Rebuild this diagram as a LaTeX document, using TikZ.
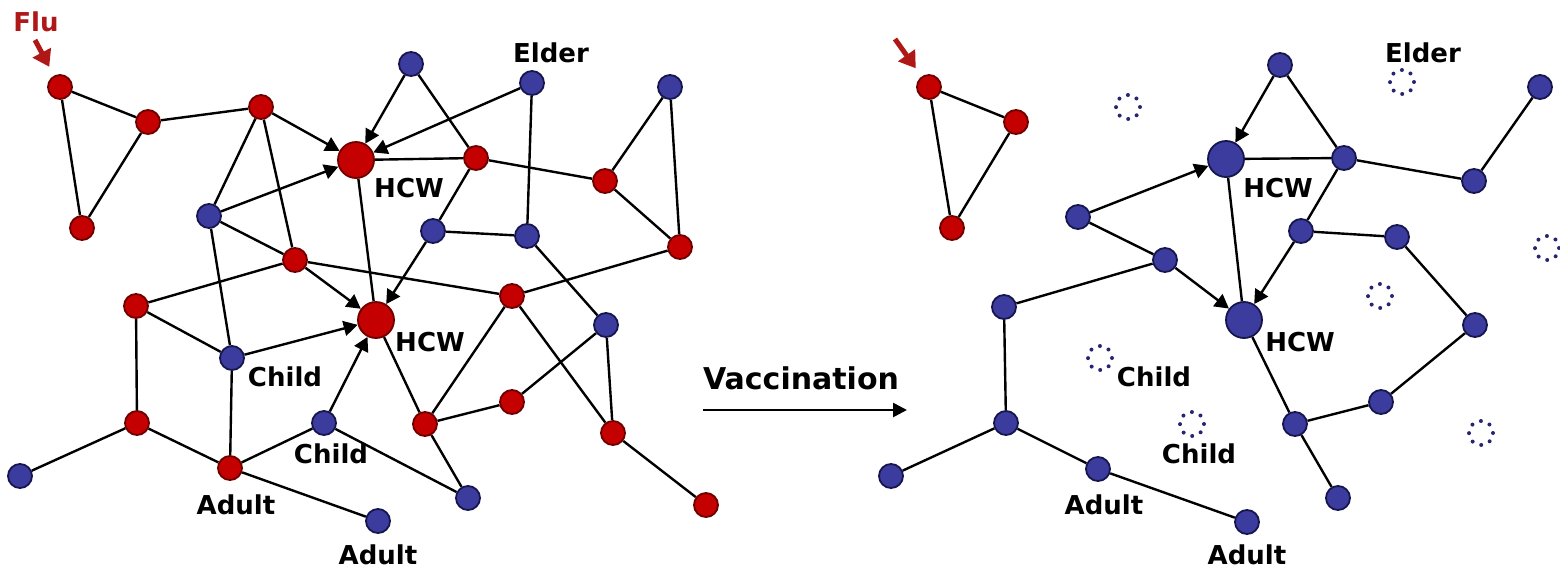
\documentclass[tikz,border=0pt]{standalone}
\usepackage{fontspec}
\setsansfont{DejaVu Sans}
\usetikzlibrary{arrows.meta,backgrounds}
\definecolor{nodered}{HTML}{C40000}
\definecolor{noderedd}{HTML}{6E0000}
\definecolor{nodeblue}{HTML}{3C3C9E}
\definecolor{nodeblued}{HTML}{16164E}
\definecolor{dotcol}{HTML}{262670}
\definecolor{flured}{HTML}{B01818}
\tikzset{
  rn/.style={circle, fill=nodered, draw=noderedd, line width=0.9pt, minimum size=12pt, inner sep=0pt},
  bn/.style={circle, fill=nodeblue, draw=nodeblued, line width=0.9pt, minimum size=12pt, inner sep=0pt},
  big/.style={minimum size=18pt},
  dn/.style={circle, draw=dotcol, line width=2pt, dash pattern=on 0pt off 4.7pt, line cap=round, minimum size=12pt, inner sep=0pt},
  edge/.style={line width=1.2pt, black},
  arr/.style={edge, -{Triangle[length=7pt,width=7.5pt]}},
  lab/.style={font=\sffamily\bfseries\fontsize{13}{15}\selectfont, inner sep=0pt, text=black},
  fluarr/.style={draw=flured, line width=2.5pt, -{Triangle[length=8pt,width=10pt]}, shorten >=5pt}
}
\begin{document}
\begin{tikzpicture}[x=0.5pt,y=-0.5pt]
\useasboundingbox (0,0) rectangle (1560,568);
% ---------- left network nodes ----------
\node[rn] (L1) at (60,87) {};
\node[rn] (L2) at (148,122) {};
\node[rn] (L3) at (82,228) {};
\node[rn] (L4) at (261,107) {};
\node[rn,big] (LH1) at (356,160) {};
\node[bn] (L5) at (209,216) {};
\node[rn] (L6) at (295,260) {};
\node[bn] (L7) at (411,64) {};
\node[bn] (L8) at (532,83) {};
\node[bn] (L9) at (670,87) {};
\node[rn] (L10) at (476,158) {};
\node[rn] (L11) at (605,181) {};
\node[bn] (L12) at (433,231) {};
\node[bn] (L13) at (527,236) {};
\node[rn] (L14) at (680,247) {};
\node[rn,big] (LH2) at (376,320) {};
\node[rn] (L15) at (512,296) {};
\node[bn] (L16) at (232,358) {};
\node[rn] (L17) at (136,306) {};
\node[rn] (L18) at (137,423) {};
\node[bn] (L19) at (20,476) {};
\node[rn] (L20) at (230,468) {};
\node[bn] (L21) at (324,423) {};
\node[bn] (L22) at (378,521) {};
\node[bn] (L23) at (606,325) {};
\node[rn] (L24) at (512,402) {};
\node[rn] (L25) at (425,424) {};
\node[bn] (L26) at (468,498) {};
\node[rn] (L27) at (613,433) {};
\node[rn] (L28) at (706,505) {};
% ---------- right network nodes ----------
\node[rn] (R1) at (929,87) {};
\node[rn] (R2) at (1016,122) {};
\node[rn] (R3) at (952,228) {};
\node[dn] (D1) at (1128,107) {};
\node[bn,big] (RH1) at (1226,159) {};
\node[bn] (R7) at (1280,65) {};
\node[dn] (D2) at (1402,82) {};
\node[bn] (R9) at (1540,87) {};
\node[bn] (R10) at (1344,158) {};
\node[bn] (R11) at (1474,181) {};
\node[bn] (R12) at (1301,231) {};
\node[bn] (R13) at (1397,237) {};
\node[dn] (D3) at (1547,248) {};
\node[bn,big] (RH2) at (1244,320) {};
\node[dn] (D4) at (1380,296) {};
\node[bn] (R23) at (1475,325) {};
\node[bn] (R24) at (1381,402) {};
\node[bn] (R25) at (1295,424) {};
\node[bn] (R26) at (1338,498) {};
\node[dn] (D5) at (1481,433) {};
\node[bn] (R22) at (1247,522) {};
\node[dn] (D6) at (1100,358) {};
\node[dn] (D7) at (1192,424) {};
\node[bn] (R5) at (1078,217) {};
\node[bn] (R6) at (1165,260) {};
\node[bn] (R17) at (1004,307) {};
\node[bn] (R18) at (1006,423) {};
\node[bn] (R19) at (891,476) {};
\node[bn] (R20) at (1098,469) {};
% ---------- labels ----------
\node[lab, text=flured] (tflu) at (36,22) {Flu};
\node[lab] (tel1) at (551,53) {Elder};
\node[lab] (th1) at (409,188) {HCW};
\node[lab] (th2) at (430,342) {HCW};
\node[lab] (tc1) at (285,377) {Child};
\node[lab] (tc2) at (331,454) {Child};
\node[lab] (ta1) at (236,505) {Adult};
\node[lab] (ta2) at (378,555) {Adult};
\node[lab, font=\sffamily\bfseries\fontsize{15}{17}\selectfont] (tvac) at (801,378) {Vaccination};
\node[lab] (tel2) at (1423,53) {Elder};
\node[lab] (th3) at (1278,188) {HCW};
\node[lab] (th4) at (1300,342) {HCW};
\node[lab] (tc3) at (1154,377) {Child};
\node[lab] (tc4) at (1199,454) {Child};
\node[lab] (ta3) at (1104,505) {Adult};
\node[lab] (ta4) at (1247,555) {Adult};
\coordinate (fluS) at (35,40);
\coordinate (fluS2) at (895,39);
\coordinate (vacS) at (703,410);
\coordinate (vacE) at (907,410);
\begin{scope}[on background layer]
\fill[white] (0,0) rectangle (1560,568);
% left edges
\draw[edge] (L1) -- (L2);
\draw[edge] (L1) -- (L3);
\draw[edge] (L2) -- (L3);
\draw[edge] (L2) -- (L4);
\draw[arr] (L4) -- (LH1);
\draw[edge] (L4) -- (L5);
\draw[edge] (L4) -- (L6);
\draw[arr] (L5) -- (LH1);
\draw[edge] (L5) -- (L6);
\draw[edge] (L5) -- (L16);
\draw[arr] (L7) -- (LH1);
\draw[edge] (L7) -- (L10);
\draw[arr] (L8) -- (LH1);
\draw[edge] (L8) -- (L13);
\draw[edge] (LH1) -- (L10);
\draw[edge] (LH1) -- (LH2);
\draw[edge] (L10) -- (L11);
\draw[edge] (L10) -- (L12);
\draw[edge] (L11) -- (L9);
\draw[edge] (L11) -- (L14);
\draw[edge] (L9) -- (L14);
\draw[edge] (L12) -- (L13);
\draw[arr] (L12) -- (LH2);
\draw[edge] (L13) -- (L23);
\draw[edge] (L14) -- (L15);
\draw[edge] (L6) -- (L15);
\draw[arr] (L6) -- (LH2);
\draw[edge] (L6) -- (L17);
\draw[edge] (L17) -- (L16);
\draw[edge] (L17) -- (L18);
\draw[arr] (L16) -- (LH2);
\draw[edge] (L16) -- (L20);
\draw[edge] (L18) -- (L19);
\draw[edge] (L18) -- (L20);
\draw[edge] (L20) -- (L21);
\draw[edge] (L20) -- (L22);
\draw[arr] (L21) -- (LH2);
\draw[edge] (L21) -- (L26);
\draw[edge] (LH2) -- (L25);
\draw[edge] (L15) -- (L25);
\draw[edge] (L15) -- (L27);
\draw[edge] (L25) -- (L24);
\draw[edge] (L25) -- (L26);
\draw[edge] (L24) -- (L23);
\draw[edge] (L23) -- (L27);
\draw[edge] (L27) -- (L28);
% right edges
\draw[edge] (R1) -- (R2);
\draw[edge] (R1) -- (R3);
\draw[edge] (R2) -- (R3);
\draw[arr] (R5) -- (RH1);
\draw[edge] (R5) -- (R6);
\draw[arr] (R6) -- (RH2);
\draw[edge] (R6) -- (R17);
\draw[edge] (R17) -- (R18);
\draw[edge] (R18) -- (R19);
\draw[edge] (R18) -- (R20);
\draw[edge] (R20) -- (R22);
\draw[arr] (R7) -- (RH1);
\draw[edge] (R7) -- (R10);
\draw[edge] (RH1) -- (R10);
\draw[edge] (RH1) -- (RH2);
\draw[edge] (R10) -- (R11);
\draw[edge] (R11) -- (R9);
\draw[edge] (R10) -- (R12);
\draw[arr] (R12) -- (RH2);
\draw[edge] (R12) -- (R13);
\draw[edge] (R13) -- (R23);
\draw[edge] (R23) -- (R24);
\draw[edge] (R24) -- (R25);
\draw[edge] (RH2) -- (R25);
\draw[edge] (R25) -- (R26);
% flu arrows and vaccination arrow
\draw[fluarr] (fluS) -- (L1);
\draw[fluarr] (fluS2) -- (R1);
\draw[line width=1.3pt, -{Triangle[length=7pt,width=7pt]}] (vacS) -- (vacE);
\end{scope}
\end{tikzpicture}
\end{document}
